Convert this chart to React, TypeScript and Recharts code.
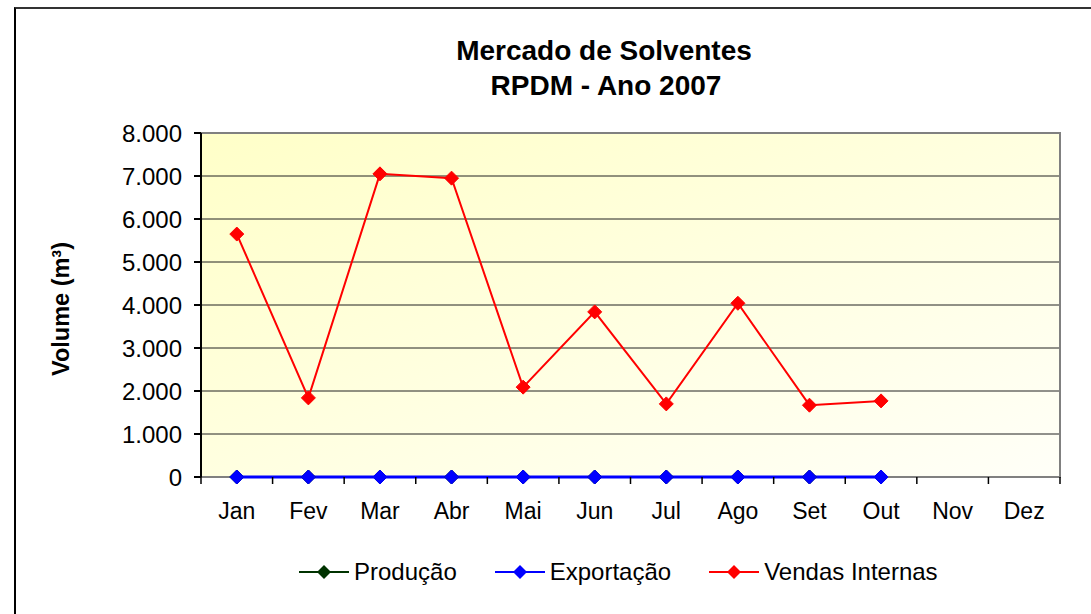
import { CartesianGrid, Line, LineChart, ReferenceArea, XAxis, YAxis } from "recharts";

const meses = ["Jan", "Fev", "Mar", "Abr", "Mai", "Jun", "Jul", "Ago", "Set", "Out", "Nov", "Dez"];
const producao = [0, 0, 0, 0, 0, 0, 0, 0, 0, 0, null, null];
const exportacao = [0, 0, 0, 0, 0, 0, 0, 0, 0, 0, null, null];
const vendasInternas = [5650, 1840, 7050, 6950, 2090, 3840, 1700, 4040, 1670, 1770, null, null];
const yTicks = [0, 1000, 2000, 3000, 4000, 5000, 6000, 7000, 8000];

const series = [
  { key: "producao", name: "Produção", color: "#003300", width: 2 },
  { key: "exportacao", name: "Exportação", color: "#0000ff", width: 3 },
  { key: "vendas", name: "Vendas Internas", color: "#ff0000", width: 2 },
];

const data = meses.map((mes, i) => ({
  mes,
  producao: producao[i],
  exportacao: exportacao[i],
  vendas: vendasInternas[i],
}));

const FONT = "'Liberation Sans', Arial, sans-serif";
const W = 1091;
const H = 614;

function formatMil(v: number) {
  if (v === 0) return "0";
  return `${Math.floor(v / 1000)}.${String(v % 1000).padStart(3, "0")}`;
}

function diamond(color: string) {
  return (props: any) => {
    const { cx, cy, index } = props;
    if (cy == null || cx == null) return <g key={`d-${index}`} />;
    const r = 7;
    return (
      <path
        key={`d-${index}`}
        d={`M${cx},${cy - r} L${cx + r},${cy} L${cx},${cy + r} L${cx - r},${cy} Z`}
        fill={color}
        stroke={color}
        strokeWidth={1}
      />
    );
  };
}

// month label plus Excel-style tick marks between categories
function MonthTick(props: any) {
  const { x, y, payload, index, visibleTicksCount } = props;
  const off = payload?.offset || 35.8;
  const last = index === (visibleTicksCount ?? meses.length) - 1;
  return (
    <g>
      <line x1={x - off} y1={y - 7} x2={x - off} y2={y} stroke="#000" strokeWidth={1.5} />
      {last && <line x1={x + off} y1={y - 7} x2={x + off} y2={y} stroke="#000" strokeWidth={1.5} />}
      <text x={x} y={y + 35} textAnchor="middle" fontSize={23} fontFamily={FONT} fill="#000">
        {payload.value}
      </text>
    </g>
  );
}

export default function App() {
  return (
    <div style={{ position: "absolute", left: 0, top: 0, width: W, height: H, background: "#fff", overflow: "hidden" }}>
      <div
        style={{
          position: "absolute",
          left: 14,
          top: 7,
          width: W,
          height: H,
          borderLeft: "2px solid #000",
          borderTop: "2px solid #333",
        }}
      />
      <div style={{ position: "absolute", left: 0, top: 0 }}>
        <LineChart width={W} height={H} data={data} margin={{ top: 133, right: 31, bottom: 97, left: 0 }}>
          <defs>
            <linearGradient id="plotBg" x1="0" y1="0" x2="1" y2="1">
              <stop offset="0%" stopColor="#ffffc8" />
              <stop offset="100%" stopColor="#fffff8" />
            </linearGradient>
          </defs>
          <CartesianGrid vertical={false} stroke="#222" fill="url(#plotBg)" fillOpacity={1} />
          <ReferenceArea y1={0} y2={8000} fill="none" stroke="#808080" strokeWidth={2} ifOverflow="visible" />
          <XAxis
            dataKey="mes"
            scale="band"
            height={40}
            axisLine={false}
            tickLine={false}
            tickSize={7}
            tickMargin={0}
            interval={0}
            tick={<MonthTick />}
          />
          <YAxis
            width={201}
            domain={[0, 8000]}
            ticks={yTicks}
            tickFormatter={formatMil}
            stroke="#000"
            strokeWidth={2}
            tickSize={7}
            tickMargin={12}
            tick={{ fontSize: 24, fontFamily: FONT, fill: "#000" }}
            interval={0}
          />
          {series.map((s) => (
            <Line
              key={s.key}
              dataKey={s.key}
              name={s.name}
              stroke={s.color}
              strokeWidth={s.width}
              type="linear"
              dot={diamond(s.color)}
              activeDot={false}
              isAnimationActive={false}
            />
          ))}
        </LineChart>
      </div>
      <svg width={W} height={H} style={{ position: "absolute", left: 0, top: 0, pointerEvents: "none" }}>
        <text x={604} y={60} textAnchor="middle" fontSize={28} fontWeight="bold" fontFamily={FONT} fill="#000">
          Mercado de Solventes
        </text>
        <text x={606} y={95} textAnchor="middle" fontSize={28} fontWeight="bold" fontFamily={FONT} fill="#000">
          RPDM - Ano 2007
        </text>
        <text
          transform="translate(69,309) rotate(-90)"
          textAnchor="middle"
          fontSize={23.5}
          fontWeight="bold"
          fontFamily={FONT}
          fill="#000"
        >
          Volume (m³)
        </text>
      </svg>
      <div
        style={{
          position: "absolute",
          left: 299,
          top: 558,
          display: "flex",
          alignItems: "center",
          gap: 38,
          fontFamily: FONT,
          fontSize: 24,
          color: "#000",
        }}
      >
        {series.map((s) => (
          <div key={s.key} style={{ display: "flex", alignItems: "center" }}>
            <svg width={50} height={20} style={{ marginRight: 5 }}>
              <line x1={0} y1={10} x2={50} y2={10} stroke={s.color} strokeWidth={2} />
              <path d="M25,3 L32,10 L25,17 L18,10 Z" fill={s.color} />
            </svg>
            <span>{s.name}</span>
          </div>
        ))}
      </div>
    </div>
  );
}
